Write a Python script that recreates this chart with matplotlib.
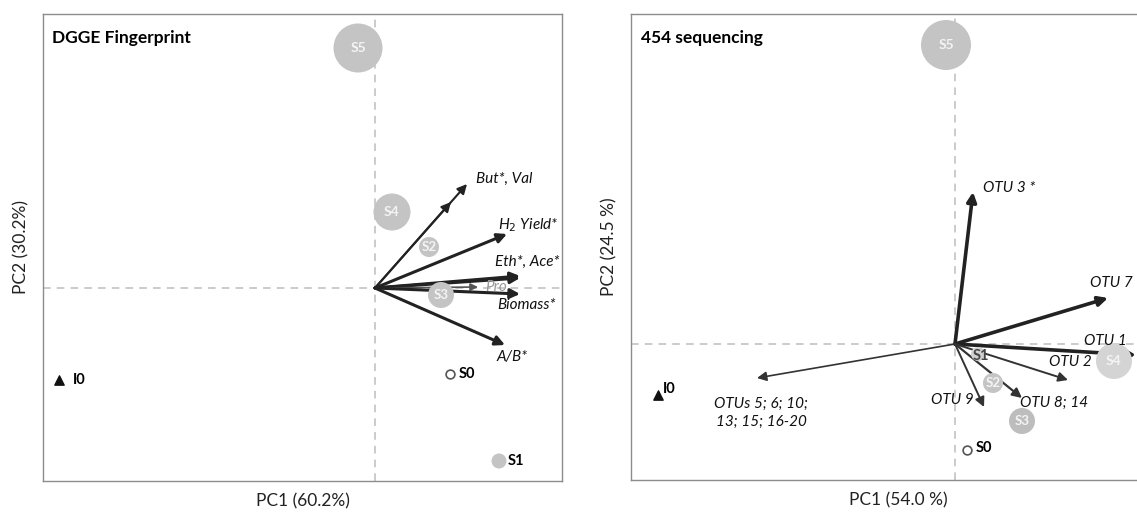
import matplotlib.pyplot as plt

plt.rcParams['font.family'] = ['Lato', 'DejaVu Sans']

# ---- DGGE fingerprint PCA (left) ----
dgge_samples = ['S5', 'S4', 'S2', 'S3', 'S1']
dgge_pc1 = [-0.17, 0.17, 0.54, 0.66, 1.24]
dgge_pc2 = [2.40, 0.76, 0.41, -0.07, -1.73]
dgge_s0 = (0.75, -0.86)
dgge_i0 = (-3.16, -0.92)

dgge_vars = ['But*', 'Val', 'H2 Yield*', 'Eth*', 'Ace*', 'Pro', 'Biomass*', 'A/B*']
dgge_load1 = [0.76, 0.92, 1.32, 1.45, 1.45, 1.03, 1.45, 1.30]
dgge_load2 = [0.86, 1.04, 0.54, 0.12, 0.10, 0.01, -0.06, -0.57]

# ---- 454 sequencing PCA (right) ----
seq_samples = ['S5', 'S4', 'S1', 'S2', 'S3']
seq_pc1 = [-0.09, 1.59, 0.23, 0.38, 0.67]
seq_pc2 = [2.99, -0.17, -0.10, -0.39, -0.77]
seq_s0 = (0.12, -1.06)
seq_i0 = (-2.97, -0.51)

seq_vars = ['OTU 3 *', 'OTU 7', 'OTU 1', 'OTU 2', 'OTU 8; 14', 'OTU 9',
            'OTUs 5; 6; 10;\n13; 15; 16-20']
seq_load1 = [0.18, 1.53, 1.81, 1.13, 0.67, 0.29, -1.98]
seq_load2 = [1.52, 0.46, -0.11, -0.36, -0.54, -0.63, -0.34]

W, H = 1137, 513
fig = plt.figure(figsize=(W / 100, H / 100), dpi=100)


def px_rect(x0, x1, y0, y1):
    return [x0 / W, 1 - y1 / H, (x1 - x0) / W, (y1 - y0) / H]


def setup(ax, xlim, ylim, title, xlabel, ylabel):
    ax.set_xlim(*xlim)
    ax.set_ylim(*ylim)
    ax.set_xticks([])
    ax.set_yticks([])
    for s in ax.spines.values():
        s.set_color('#8c8c8c')
        s.set_linewidth(1.0)
    ax.axhline(0, color='#bdbdbd', ls=(0, (5, 4)), lw=1.1, zorder=0)
    ax.axvline(0, color='#bdbdbd', ls=(0, (5, 4)), lw=1.1, zorder=0)
    ax.text(0.018, 0.965, title, transform=ax.transAxes, fontsize=12.5,
            fontweight='bold', va='top', ha='left', color='#000')
    ax.set_xlabel(xlabel, fontsize=12.5, color='#222', labelpad=9)
    ax.set_ylabel(ylabel, fontsize=12.5, color='#222', labelpad=10)


def arrow(ax, x, y, lw, color='#222', ms=14):
    ax.annotate('', xy=(x, y), xytext=(0, 0),
                arrowprops=dict(arrowstyle='-|>', lw=lw, color=color,
                                mutation_scale=ms, shrinkA=0, shrinkB=0),
                zorder=2)


def bubbles(ax, xs, ys, names, diams, colors, inside):
    for x, y, n, d, c, ins in zip(xs, ys, names, diams, colors, inside):
        ax.scatter([x], [y], s=(d * 0.72) ** 2, color=c, edgecolors='none', zorder=3)
        if ins:
            ax.text(x, y, n, ha='center', va='center', fontsize=10 if d > 30 else 9.5,
                    fontweight='bold', color='#f4f4f4', zorder=4)


# left panel
ax1 = fig.add_axes(px_rect(43, 562, 14, 481))
setup(ax1, (-3.32, 1.87), (-1.93, 2.74), 'DGGE Fingerprint',
      'PC1 (60.2%)', 'PC2 (30.2%)')

lws1 = [1.5, 1.5, 2.2, 2.2, 2.2, 1.2, 2.2, 2.2]
for i in range(len(dgge_vars)):
    c = '#555' if dgge_vars[i] == 'Pro' else '#222'
    arrow(ax1, dgge_load1[i], dgge_load2[i], lws1[i], color=c, ms=11 if i == 5 else 14)

lab1 = [('But*, Val', 1, (9, 5), '#111'),
        ('H$_2$ Yield*', 2, (-9, 9), '#111'),
        ('Eth*, Ace*', 3, (-25, 14), '#111'),
        ('Pro', 5, (7, 0), '#999'),
        ('Biomass*', 6, (-23, -11), '#111'),
        ('A/B*', 7, (-8, -12), '#111')]
for txt, i, off, c in lab1:
    ax1.annotate(txt, (dgge_load1[i], dgge_load2[i]), xytext=off,
                 textcoords='offset pixels', fontsize=11, style='italic',
                 color=c, va='center', ha='left', zorder=5)

bubbles(ax1, dgge_pc1, dgge_pc2, dgge_samples, [49, 37, 20, 26, 15],
        ['#c4c4c4'] * 5, [True, True, True, True, False])
ax1.annotate('S1', (dgge_pc1[4], dgge_pc2[4]), xytext=(9, 0), textcoords='offset pixels',
             fontsize=10.5, fontweight='bold', va='center', color='#000')
ax1.scatter(*dgge_s0, s=40, facecolors='white', edgecolors='#555', lw=1.2, zorder=3)
ax1.annotate('S0', dgge_s0, xytext=(9, 0), textcoords='offset pixels',
             fontsize=10.5, fontweight='bold', va='center', color='#000')
ax1.scatter(*dgge_i0, s=45, marker='^', color='#111', zorder=3)
ax1.annotate('I0', dgge_i0, xytext=(14, 0), textcoords='offset pixels',
             fontsize=10.5, fontweight='bold', va='center', color='#000')

# right panel
ax2 = fig.add_axes(px_rect(631, 1165, 14, 480))
setup(ax2, (-3.24, 2.10), (-1.36, 3.30), '454 sequencing',
      'PC1 (54.0 %)', 'PC2 (24.5 %)')

lws2 = [2.6, 2.6, 2.6, 1.4, 1.6, 1.4, 1.2]
for i in range(len(seq_vars)):
    arrow(ax2, seq_load1[i], seq_load2[i], lws2[i], color='#222' if i < 3 else '#333')

lab2 = [((10, 4), 'left'), ((-18, 15), 'left'), ((-52, 14), 'left'),
        ((-19, 18), 'left'), ((-2, -5), 'left'), ((-10, 7), 'right'),
        ((4, -35), 'center')]
for i, (off, ha) in enumerate(lab2):
    ax2.annotate(seq_vars[i], (seq_load1[i], seq_load2[i]), xytext=off,
                 textcoords='offset pixels', fontsize=11, style='italic',
                 color='#111', va='center', ha=ha, linespacing=1.4, zorder=5)

bubbles(ax2, seq_pc1, seq_pc2, seq_samples, [50, 36, 14, 20, 26],
        ['#c4c4c4', '#d4d4d4', '#d0d0d0', '#c4c4c4', '#bdbdbd'],
        [True, True, False, True, True])
ax2.text(seq_pc1[2] + 0.03, seq_pc2[2] - 0.02, 'S1', ha='center', va='center',
         fontsize=10.5, fontweight='bold', color='#444', zorder=5)
ax2.scatter(*seq_s0, s=40, facecolors='white', edgecolors='#555', lw=1.2, zorder=3)
ax2.annotate('S0', seq_s0, xytext=(9, 2), textcoords='offset pixels',
             fontsize=10.5, fontweight='bold', va='center', color='#000')
ax2.scatter(*seq_i0, s=45, marker='^', color='#111', zorder=3)
ax2.annotate('I0', seq_i0, xytext=(5, 6), textcoords='offset pixels',
             fontsize=10.5, fontweight='bold', va='center', color='#000')

fig.savefig('out.png', dpi=100)
